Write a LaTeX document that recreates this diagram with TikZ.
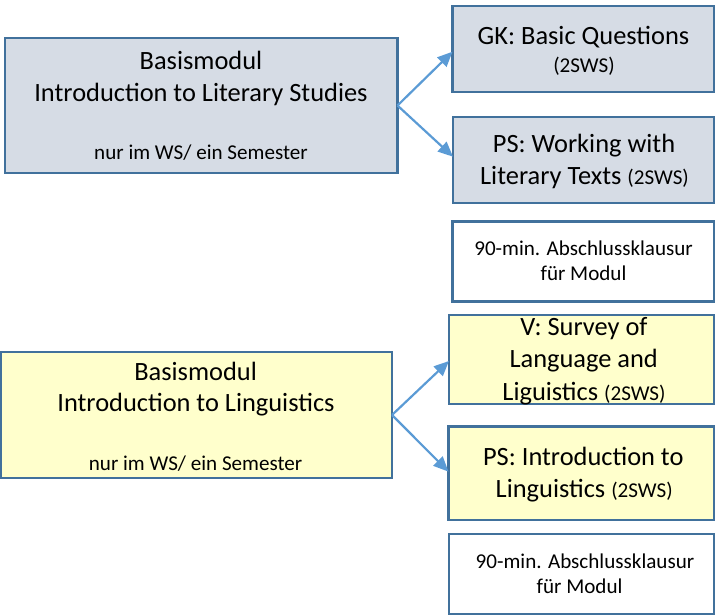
\documentclass[tikz,border=0pt]{standalone}
\usepackage{fontspec}
\setmainfont{Carlito}
\usetikzlibrary{calc,arrows.meta}
\definecolor{bfill}{HTML}{D6DCE5}
\definecolor{yfill}{HTML}{FFFFCC}
\definecolor{bord}{HTML}{41719C}
\definecolor{arr}{HTML}{5B9BD5}
\newcommand\bigfnt{\fontsize{26.4bp}{32bp}\selectfont}
\newcommand\smallfnt{\fontsize{21.1bp}{25.7bp}\selectfont}
\begin{document}
\begin{tikzpicture}[x=1bp,y=-1bp,
  box/.style={draw=bord,line width=2.2bp,inner sep=0pt,outer sep=0pt,rectangle},
  btxt/.style={anchor=base,inner sep=0pt,font=\bigfnt},
  stxt/.style={anchor=base,inner sep=0pt,font=\smallfnt},
  conn/.style={draw=arr,line width=2.2bp,-{Triangle[length=15bp,width=13bp]}}]
\useasboundingbox (0,0) rectangle (715,615);
% boxes
\node[box,fill=bfill,minimum width=392.8bp,minimum height=135bp] (A) at (201.1,105.5) {};
\node[box,fill=bfill,minimum width=261.5bp,minimum height=86bp] (GK) at (583.25,49) {};
\node[box,fill=bfill,minimum width=261bp,minimum height=86bp] (PS) at (583.5,160) {};
\node[box,fill=white,minimum width=261.5bp,minimum height=80bp] (K1) at (583.25,261.5) {};
\node[box,fill=yfill,minimum width=391.3bp,minimum height=126bp] (B) at (196.35,415) {};
\node[box,fill=yfill,minimum width=265bp,minimum height=89bp] (V) at (581.5,359.5) {};
\node[box,fill=yfill,minimum width=265.5bp,minimum height=93.5bp] (PSI) at (581.25,473.25) {};
\node[box,fill=white,minimum width=265bp,minimum height=80bp] (K2) at (581.5,574) {};
% texts
\node[btxt] (a1) at (201,70) {Basismodul};
\node[btxt] (a2) at (201,101.7) {Introduction to Literary Studies};
\node[stxt] (a3) at (201,160) {nur im WS/ ein Semester};
\node[btxt] (g1) at (583.5,45) {GK: Basic Questions};
\node[stxt] (g2) at (584,73) {(2SWS)};
\node[btxt] (p1) at (584,153) {PS: Working with};
\node[btxt] (p2) at (584.5,185) {Literary Texts {\smallfnt(2SWS)}};
\node[stxt] (k1a) at (583.6,255) {90-min. Abschlussklausur};
\node[stxt] (k1b) at (583.5,280) {für Modul};
\node[btxt] (b1) at (195.6,380) {Basismodul};
\node[btxt] (b2) at (196,411.7) {Introduction to Linguistics};
\node[stxt] (b3) at (195.6,470) {nur im WS/ ein Semester};
\node[btxt] (v1) at (584,335.7) {V: Survey of};
\node[btxt] (v2) at (583.7,367.3) {Language and};
\node[btxt] (v3) at (584,400) {Liguistics {\smallfnt(2SWS)}};
\node[btxt] (q1) at (583.3,465.7) {PS: Introduction to};
\node[btxt] (q2) at (584.2,497.7) {Linguistics {\smallfnt(2SWS)}};
\node[stxt] (k2a) at (585,568) {90-min. Abschlussklausur};
\node[stxt] (k2b) at (579.6,593) {für Modul};
% connectors
\draw[conn] (A.east) -- ($(GK.west)+(0,2.7)$);
\draw[conn] (A.east) -- ($(PS.west)+(0,-3.3)$);
\draw[conn] (B.east) -- ($(V.west)+(0,1.5)$);
\draw[conn] (B.east) -- ($(PSI.west)+(0,-1.6)$);
\end{tikzpicture}
\end{document}
